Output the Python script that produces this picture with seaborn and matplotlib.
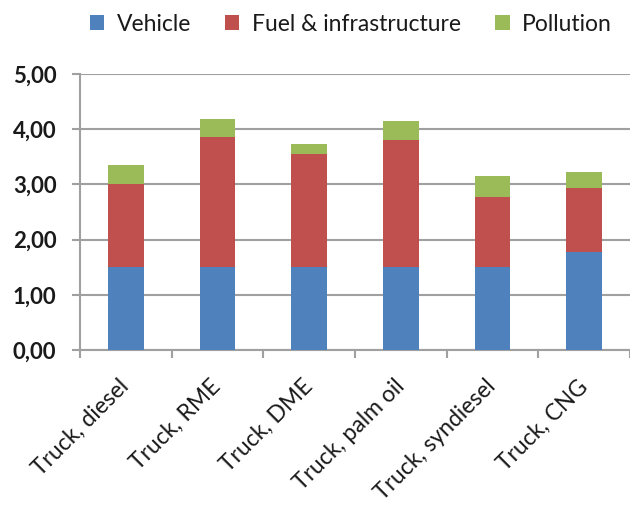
import matplotlib
matplotlib.use("Agg")
import matplotlib.pyplot as plt
from matplotlib.ticker import FuncFormatter, FixedLocator
from matplotlib.patches import Patch
import numpy as np
import pandas as pd
import seaborn as sns

categories = ["Truck, diesel", "Truck, RME", "Truck, DME",
              "Truck, palm oil", "Truck, syndiesel", "Truck, CNG"]
vehicle = [1.50, 1.50, 1.50, 1.50, 1.50, 1.78]
fuel_infra = [1.50, 2.36, 2.05, 2.31, 1.27, 1.16]
pollution = [0.35, 0.32, 0.19, 0.34, 0.39, 0.28]
series_names = ["Vehicle", "Fuel & infrastructure", "Pollution"]
colors = ["#4F81BD", "#C0504D", "#9BBB59"]
y_ticks = [0, 1, 2, 3, 4, 5]

sns.set_theme(style="white")
plt.rcParams["font.family"] = ["Lato", "DejaVu Sans"]

df = pd.DataFrame({"category": categories, "vehicle": vehicle,
                   "fuel": fuel_infra, "pollution": pollution})
df["lvl2"] = df["vehicle"] + df["fuel"]
df["lvl3"] = df["lvl2"] + df["pollution"]

fig = plt.figure(figsize=(6.30, 5.14), dpi=100)
ax = fig.add_axes([0.127, 0.319, 0.873, 0.537])

# stacked bars drawn as overlapping cumulative layers, tallest first
for col, color in zip(["lvl3", "lvl2", "vehicle"], colors[::-1]):
    sns.barplot(data=df, x="category", y=col, color=color, width=0.39,
                saturation=1, ax=ax, zorder=3, edgecolor="none")

ax.set_ylim(0, 5)
ax.set_xlim(-0.5, len(categories) - 0.5)
ax.yaxis.set_major_locator(FixedLocator(y_ticks))
ax.yaxis.set_major_formatter(FuncFormatter(lambda v, p: f"{v:.2f}".replace(".", ",")))
ax.grid(axis="y", color="#a0a0a0", linewidth=1.5, zorder=0)
ax.set_axisbelow(True)
ax.set_xlabel("")
ax.set_ylabel("")

for side in ["top", "right"]:
    ax.spines[side].set_visible(False)
for side in ["left", "bottom"]:
    ax.spines[side].set_color("#a0a0a0")
    ax.spines[side].set_linewidth(1.5)

# category boundary ticks on the x axis
ax.set_xticks(np.arange(len(categories)))
ax.set_xticklabels(categories, rotation=45, ha="right", va="center",
                   rotation_mode="anchor", fontsize=16.5, color="#1a1a1a")
ax.tick_params(axis="x", which="major", length=0, pad=24)
ax.set_xticks(np.arange(len(categories) + 1) - 0.5, minor=True)
ax.tick_params(axis="x", which="minor", length=6, width=1.5, color="#a0a0a0",
               direction="out", bottom=True)
ax.tick_params(axis="y", length=6, width=1.5, color="#a0a0a0",
               direction="out", left=True, labelsize=16, labelcolor="#1a1a1a", pad=11)
for lab in ax.get_yticklabels():
    lab.set_fontweight("bold")

handles = [Patch(facecolor=c, edgecolor="none", label=n)
           for c, n in zip(colors, series_names)]
fig.legend(handles=handles, loc="center", bbox_to_anchor=(0.557, 0.953), ncol=3,
           frameon=False, fontsize=16.5, handlelength=0.62, handleheight=0.62,
           handletextpad=0.55, columnspacing=1.5, labelcolor="#1a1a1a")

fig.savefig("out.png", dpi=100, facecolor="white")
